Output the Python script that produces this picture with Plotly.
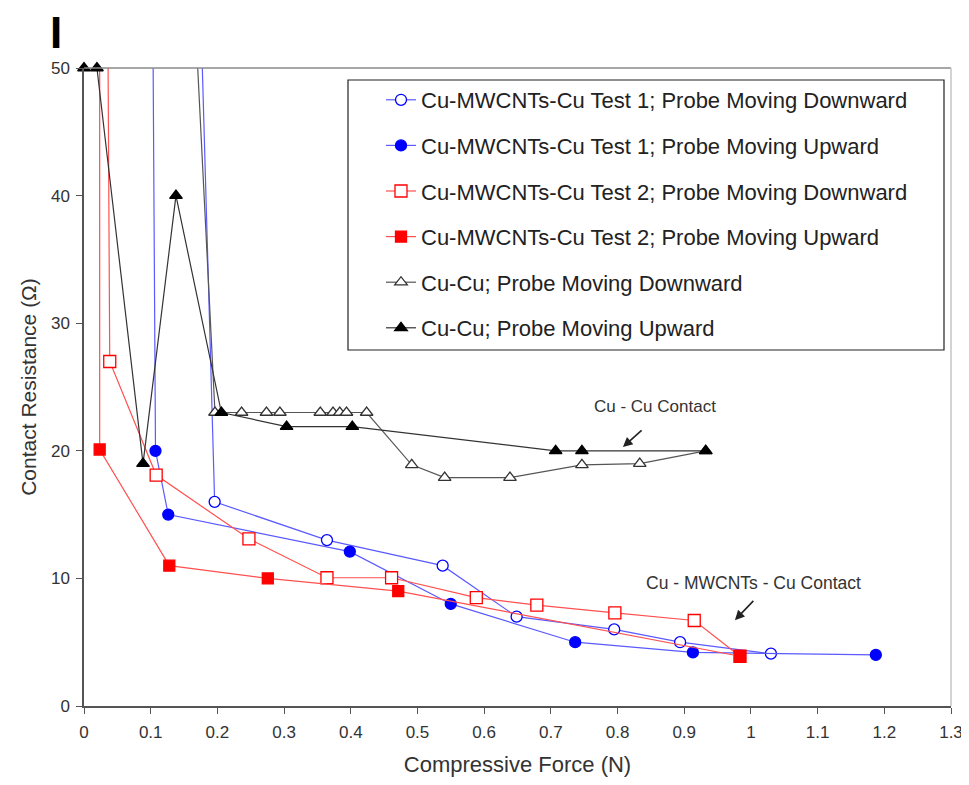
import plotly.graph_objects as go

# ---------------- data ----------------
t1_down_x = [0.1747, 0.1959, 0.3643, 0.5378, 0.6487, 0.7950, 0.8938, 1.0300]
t1_down_y = [55, 16.0, 13.0, 11.0, 7.0, 6.0, 5.0, 4.1]

t1_up_x = [0.1031, 0.1072, 0.1263, 0.3986, 0.5499, 0.7365, 0.9130, 1.1873]
t1_up_y = [55, 20.0, 15.0, 12.1, 8.0, 5.0, 4.2, 4.0]

t2_down_x = [0.0356, 0.0386, 0.1082, 0.2473, 0.3643, 0.4612, 0.5882, 0.6790, 0.7960,
             0.9150, 0.9836]
t2_down_y = [55, 27.0, 18.1, 13.1, 10.05, 10.05, 8.5, 7.9, 7.3, 6.7, 3.9]

t2_up_x = [0.0235, 0.0235, 0.1279, 0.2756, 0.4712, 0.9836]
t2_up_y = [55, 20.1, 11.0, 10.0, 9.0, 3.9]

cu_down_x = [0.1657, 0.1964, 0.2363, 0.2736, 0.2937, 0.3543, 0.3734, 0.3835, 0.3936,
             0.4238, 0.4914, 0.5408, 0.6387, 0.7466, 0.8333, 0.9322]
cu_down_y = [55, 23, 23, 23, 23, 23, 23, 23, 23, 23, 18.9, 17.9, 17.9, 18.9, 19.0, 20.0]

cu_up_x = [0.9322, 0.7466, 0.7072, 0.4023, 0.3038, 0.2060, 0.1379, 0.0885, 0.0194, 0.0]
cu_up_y = [20.0, 20.0, 20.0, 21.9, 21.9, 23.0, 40.0, 19.0, 50.0, 50.0]

series_names = [
    "Cu-MWCNTs-Cu Test 1; Probe Moving Downward",
    "Cu-MWCNTs-Cu Test 1; Probe Moving Upward",
    "Cu-MWCNTs-Cu Test 2; Probe Moving Downward",
    "Cu-MWCNTs-Cu Test 2; Probe Moving Upward",
    "Cu-Cu; Probe Moving Downward",
    "Cu-Cu; Probe Moving Upward",
]

x_tick_vals = [0, 0.1, 0.2, 0.3, 0.4, 0.5, 0.6, 0.7, 0.8, 0.9, 1.0, 1.1, 1.2, 1.3]
x_tick_text = ["0", "0.1", "0.2", "0.3", "0.4", "0.5", "0.6", "0.7", "0.8", "0.9",
               "1", "1.1", "1.2", "1.3"]
y_tick_vals = [0, 10, 20, 30, 40, 50]

FONT = "Liberation Sans, Arial, sans-serif"
BLUE = "#0000ff"
RED = "#ff0000"
BLACK = "#000000"

fig = go.Figure()

def add(xs, ys, name, color, symbol, fill, size, linecolor, clip=True):
    fig.add_trace(go.Scatter(
        x=xs, y=ys, name=name, mode="lines+markers",
        line=dict(color=linecolor, width=1.2),
        marker=dict(symbol=symbol, size=size, color=fill,
                    line=dict(color=color, width=1.3)),
        cliponaxis=clip, legendgroup=name,
    ))

add(t1_down_x, t1_down_y, series_names[0], BLUE, "circle", "white", 11, "#5a5aff")
add(t1_up_x, t1_up_y, series_names[1], BLUE, "circle", BLUE, 11, "#5a5aff")
add(t2_down_x, t2_down_y, series_names[2], RED, "square", "white", 12, "#ff5050")
add(t2_up_x, t2_up_y, series_names[3], RED, "square", RED, 11, "#ff5050")
add(cu_down_x, cu_down_y, series_names[4], "#333333", "triangle-up", "white", 11, "#555555")
add(cu_up_x, cu_up_y, series_names[5], BLACK, "triangle-up", BLACK, 11, "#333333", clip=False)

# the page body has an 8px margin; size the figure so it fits in the window
OFF = 8
W, H = 969 - OFF, 785 - 2 * OFF
PLOT_L, PLOT_R, PLOT_T, PLOT_B = 84, 951, 68, 706   # target screen pixels
L = PLOT_L - OFF
R = OFF + W - PLOT_R
T = PLOT_T - OFF
B = OFF + H - PLOT_B
pw, ph = W - L - R, H - T - B

def px_x(p):
    return (p - PLOT_L) / pw

def px_y(p):
    return (PLOT_B - p) / ph

# legend frame
fig.add_shape(type="rect", xref="paper", yref="paper",
              x0=px_x(348), x1=px_x(944), y0=px_y(350), y1=px_y(80),
              line=dict(color="#222222", width=1.2), fillcolor="white", layer="below")
# top and right frame of the plot area
fig.add_shape(type="line", xref="paper", yref="paper", x0=0, x1=1, y0=1, y1=1,
              line=dict(color="#8a8a8a", width=1.5))
fig.add_shape(type="line", xref="paper", yref="paper", x0=1, x1=1, y0=0, y1=1,
              line=dict(color="#c4c4c4", width=1.5))

# annotations
fig.add_annotation(x=0.8565, y=23.5, text="Cu - Cu Contact", showarrow=False,
                   font=dict(family=FONT, size=17, color="#333333"))
fig.add_annotation(x=0.8081, y=20.3, ax=0.8383, ay=21.7, axref="x", ayref="y",
                   text="", showarrow=True, arrowhead=2, arrowsize=1.2,
                   arrowwidth=1.6, arrowcolor="#222222")
fig.add_annotation(x=1.0038, y=9.66, text="Cu - MWCNTs - Cu Contact", showarrow=False,
                   font=dict(family=FONT, size=17.5, color="#333333"))
fig.add_annotation(x=0.9760, y=6.73, ax=1.0058, ay=8.36, axref="x", ayref="y",
                   text="", showarrow=True, arrowhead=2, arrowsize=1.2,
                   arrowwidth=1.6, arrowcolor="#222222")

# panel label
fig.add_annotation(xref="paper", yref="paper", x=px_x(56), y=px_y(58), text="<b>I</b>",
                   showarrow=False, font=dict(family=FONT, size=44, color="black"),
                   xanchor="center", yanchor="bottom", borderpad=0)

fig.update_layout(
    width=W, height=H,
    margin=dict(l=L, r=R, t=T, b=B, autoexpand=False),
    paper_bgcolor="white", plot_bgcolor="white",
    font=dict(family=FONT, color="#333333"),
    showlegend=True,
    legend=dict(x=px_x(381), y=px_y(79), xanchor="left", yanchor="top",
                bgcolor="rgba(0,0,0,0)", borderwidth=0,
                font=dict(family=FONT, size=22, color="#222222"),
                tracegroupgap=14, itemwidth=30),
    xaxis=dict(range=[0, 1.3], tickvals=x_tick_vals, ticktext=x_tick_text,
               automargin=False,
               showgrid=False, zeroline=False, showline=True, linecolor="#555555",
               linewidth=1.5, mirror=False, ticks="outside", ticklen=6,
               ticklabelstandoff=4,
               tickcolor="#555555", tickfont=dict(family=FONT, size=17, color="#333333"),
               title=dict(text="Compressive Force (N)", standoff=26,
                          font=dict(family=FONT, size=22, color="#333333"))),
    yaxis=dict(range=[0, 50], tickvals=y_tick_vals,
               automargin=False,
               showgrid=False, zeroline=False, showline=True, linecolor="#555555",
               linewidth=1.5, mirror=False, ticks="outside", ticklen=6,
               ticklabelstandoff=3,
               tickcolor="#555555", tickfont=dict(family=FONT, size=17, color="#333333"),
               title=dict(text="Contact Resistance (Ω)", standoff=9,
                          font=dict(family=FONT, size=21, color="#333333"))),
)

fig.write_html("out.html")
